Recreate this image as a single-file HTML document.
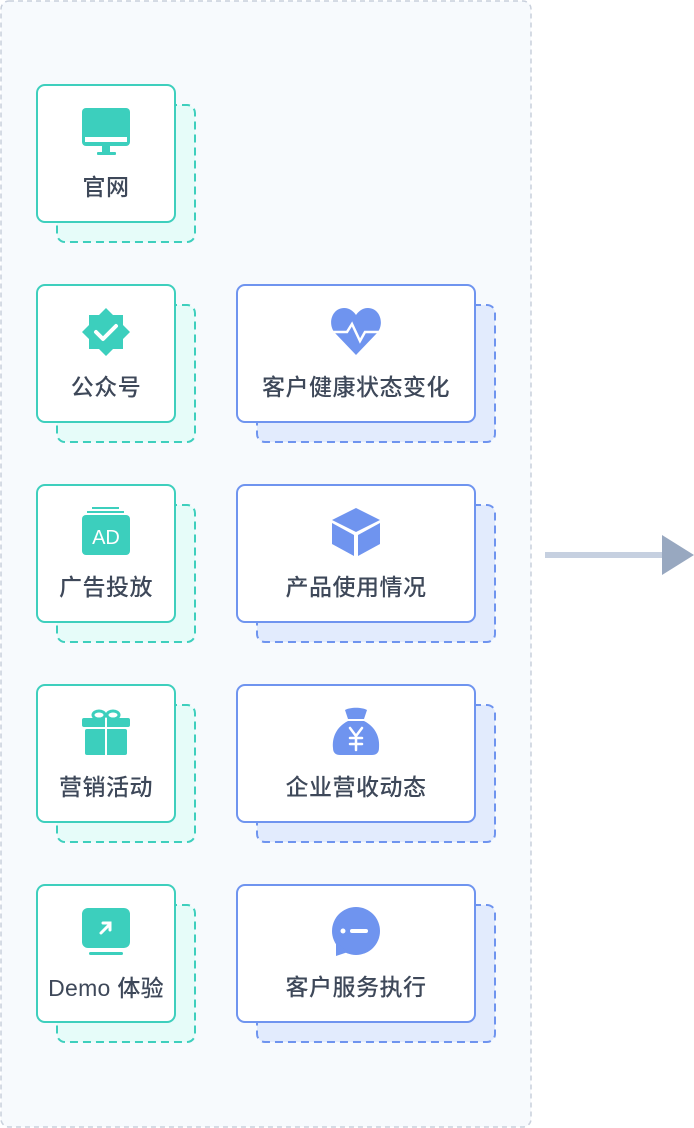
<!DOCTYPE html>
<html><head><meta charset="utf-8"><style>
html,body{margin:0;padding:0;background:#fff;}
svg{display:block;}
text{font-family:"Liberation Sans","Noto Sans CJK SC",sans-serif;font-size:23px;fill:#3e4859;text-anchor:middle;font-weight:500;letter-spacing:0.5px;}
</style></head><body>
<svg width="694" height="1128" viewBox="0 0 694 1128" xmlns="http://www.w3.org/2000/svg">
<rect x="1" y="1" width="530" height="1126" rx="8" fill="#f7fafd" stroke="#c9d0dc" stroke-width="1.5" stroke-dasharray="5 4"/>
<rect x="545" y="552" width="118" height="6" fill="#c6d0e0"/>
<polygon points="662,535 694,555 662,575" fill="#98a8c0"/>

<g transform="translate(0,0)">
<rect x="57" y="105" width="138" height="137" rx="8" fill="#e6fcf9" stroke="#3ecfbd" stroke-width="2" stroke-dasharray="8 5"/>
<rect x="37" y="85" width="138" height="137" rx="8" fill="#fff" stroke="#3ecfbd" stroke-width="2"/>
<rect x="82" y="108" width="48" height="38" rx="4" fill="#3ccfbd"/>
<rect x="85" y="137" width="42" height="5" fill="#fff"/>
<rect x="102" y="146" width="8" height="6" fill="#3ccfbd"/>
<rect x="97" y="152" width="19" height="3" rx="1" fill="#3ccfbd"/>
<text x="106" y="195">官网</text>
</g>
<g transform="translate(0,200)">
<rect x="57" y="105" width="138" height="137" rx="8" fill="#e6fcf9" stroke="#3ecfbd" stroke-width="2" stroke-dasharray="8 5"/>
<rect x="37" y="85" width="138" height="137" rx="8" fill="#fff" stroke="#3ecfbd" stroke-width="2"/>
<polygon points="106,108 113,115 123,115 123,125 130,132 123,139 123,149 113,149 106,156 99,149 89,149 89,139 82,132 89,125 89,115 99,115" fill="#3ccfbd"/>
<polyline points="96,132 103,139 116,126" fill="none" stroke="#fff" stroke-width="4" stroke-linecap="round" stroke-linejoin="round"/>
<text x="106" y="195">公众号</text>
</g>
<g transform="translate(0,400)">
<rect x="57" y="105" width="138" height="137" rx="8" fill="#e6fcf9" stroke="#3ecfbd" stroke-width="2" stroke-dasharray="8 5"/>
<rect x="37" y="85" width="138" height="137" rx="8" fill="#fff" stroke="#3ecfbd" stroke-width="2"/>
<rect x="92" y="107" width="27" height="2" fill="#3ccfbd"/>
<rect x="87" y="111" width="37" height="2" fill="#3ccfbd"/>
<rect x="82" y="115" width="48" height="40" rx="4" fill="#3ccfbd"/>
<text x="106" y="144" style="fill:#fff;font-size:20px;font-weight:400;letter-spacing:0">AD</text>
<text x="106" y="195">广告投放</text>
</g>
<g transform="translate(0,600)">
<rect x="57" y="105" width="138" height="137" rx="8" fill="#e6fcf9" stroke="#3ecfbd" stroke-width="2" stroke-dasharray="8 5"/>
<rect x="37" y="85" width="138" height="137" rx="8" fill="#fff" stroke="#3ecfbd" stroke-width="2"/>
<ellipse cx="99" cy="115" rx="6" ry="4" fill="none" stroke="#3ccfbd" stroke-width="3"/>
<ellipse cx="113" cy="115" rx="6" ry="4" fill="none" stroke="#3ccfbd" stroke-width="3"/>
<rect x="82" y="118" width="48" height="9" rx="2" fill="#3ccfbd"/>
<rect x="85" y="129" width="42" height="26" rx="2" fill="#3ccfbd"/>
<rect x="105" y="118" width="2" height="37" fill="#fff"/>
<text x="106" y="195">营销活动</text>
</g>
<g transform="translate(0,800)">
<rect x="57" y="105" width="138" height="137" rx="8" fill="#e6fcf9" stroke="#3ecfbd" stroke-width="2" stroke-dasharray="8 5"/>
<rect x="37" y="85" width="138" height="137" rx="8" fill="#fff" stroke="#3ecfbd" stroke-width="2"/>
<rect x="82" y="108" width="48" height="40" rx="6" fill="#3ccfbd"/>
<rect x="89" y="152" width="34" height="3" rx="1.5" fill="#3ccfbd"/>
<polyline points="101,133 110,124" stroke="#fff" stroke-width="3" stroke-linecap="round"/>
<polyline points="103,123 110,123 110,130" fill="none" stroke="#fff" stroke-width="3" stroke-linecap="round"/>
<text x="106" y="196" style="letter-spacing:0.3px">Demo 体验</text>
</g>

<g transform="translate(0,200)">
<rect x="257" y="105" width="238" height="137" rx="8" fill="#e2ebfd" stroke="#6f94ef" stroke-width="2" stroke-dasharray="8 5"/>
<rect x="237" y="85" width="238" height="137" rx="8" fill="#fff" stroke="#6f94ef" stroke-width="2"/>
<path d="M356,155 L335,133 C327,124 332,108 344,108 C350,108 354,112 356,115 C358,112 362,108 368,108 C380,108 385,124 377,133 Z" fill="#6f94ef"/>
<polyline points="332,132 347,132 352,124 360,141 365,132 380,132" fill="none" stroke="#fff" stroke-width="2.5"/>
<text x="356" y="195">客户健康状态变化</text>
</g>
<g transform="translate(0,400)">
<rect x="257" y="105" width="238" height="137" rx="8" fill="#e2ebfd" stroke="#6f94ef" stroke-width="2" stroke-dasharray="8 5"/>
<rect x="237" y="85" width="238" height="137" rx="8" fill="#fff" stroke="#6f94ef" stroke-width="2"/>
<polygon points="356,108 380,120 356,132 332,120" fill="#6f94ef"/>
<polygon points="332,123 354,135 354,156 332,144" fill="#6f94ef"/>
<polygon points="380,123 358,135 358,156 380,144" fill="#6f94ef"/>
<text x="356" y="195">产品使用情况</text>
</g>
<g transform="translate(0,600)">
<rect x="257" y="105" width="238" height="137" rx="8" fill="#e2ebfd" stroke="#6f94ef" stroke-width="2" stroke-dasharray="8 5"/>
<rect x="237" y="85" width="238" height="137" rx="8" fill="#fff" stroke="#6f94ef" stroke-width="2"/>
<path d="M345,110 C350,107 362,107 367,110 L364,119 L348,119 Z" fill="#6f94ef"/>
<path d="M348,121 L364,121 C376,127 380,138 379,148 C379,153 376,155 372,155 L340,155 C336,155 333,153 333,148 C332,138 336,127 348,121 Z" fill="#6f94ef"/>
<g stroke="#fff" stroke-width="2.5" stroke-linecap="round" fill="none">
<polyline points="350,128 356,136 362,128"/>
<line x1="356" y1="136" x2="356" y2="150"/>
<line x1="350" y1="138" x2="362" y2="138"/>
<line x1="350" y1="144" x2="362" y2="144"/>
</g>
<text x="356" y="195">企业营收动态</text>
</g>
<g transform="translate(0,800)">
<rect x="257" y="105" width="238" height="137" rx="8" fill="#e2ebfd" stroke="#6f94ef" stroke-width="2" stroke-dasharray="8 5"/>
<rect x="237" y="85" width="238" height="137" rx="8" fill="#fff" stroke="#6f94ef" stroke-width="2"/>
<circle cx="356" cy="131" r="24" fill="#6f94ef"/>
<polygon points="336,142 336,156 348,152" fill="#6f94ef"/>
<circle cx="343" cy="131" r="2.5" fill="#fff"/>
<rect x="350" y="129" width="18" height="4" rx="2" fill="#fff"/>
<text x="356" y="195">客户服务执行</text>
</g>
</svg>
</body></html>
